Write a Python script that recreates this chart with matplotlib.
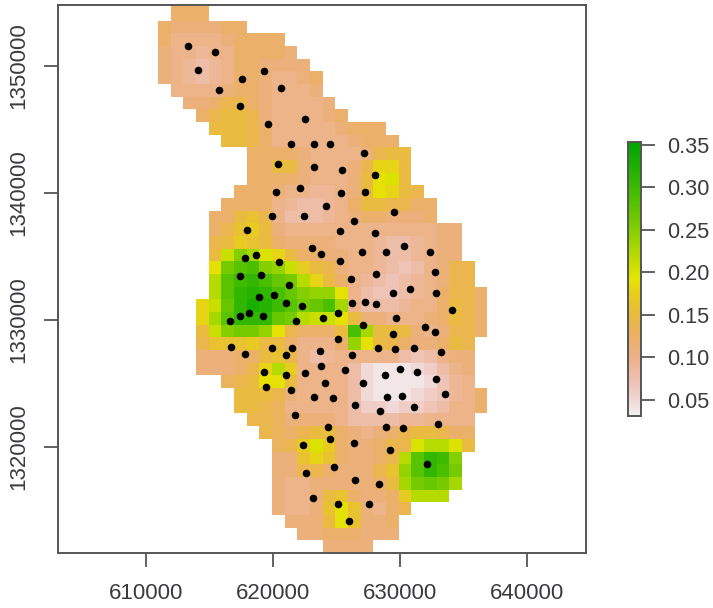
import colorsys
import numpy as np
import matplotlib
matplotlib.use("Agg")
import matplotlib.pyplot as plt
from matplotlib.colors import LinearSegmentedColormap

plt.rcParams['font.family'] = ['Liberation Sans', 'DejaVu Sans']

# raster cell values in hundredths: (first column, values of the row), from top to bottom
cell_rows = [
 (1, [12,12,12]),
 (1, [12,12,12]),
 (0, [12,11,11,11,11,12,12]),
 (0, [12,10,10,10,10,11,12,12,12,12]),
 (0, [11,10,10,9,10,10,12,12,12,12,11]),
 (0, [11,10,9,8,9,10,12,12,11,11,11,11]),
 (0, [11,10,9,8,9,10,12,12,11,10,10,11,12]),
 (1, [10,10,10,10,11,12,12,11,10,10,10,11]),
 (2, [11,11,12,14,14,12,11,10,10,10,10,11]),
 (3, [12,14,15,15,14,11,10,10,10,10,11,12]),
 (4, [15,15,15,14,12,10,10,10,10,10,11,12,12,12]),
 (5, [15,15,14,12,10,10,10,10,10,10,11,12,12,12]),
 (7, [12,12,12,12,11,10,10,10,10,11,14,15,15]),
 (7, [12,12,15,15,11,10,10,10,11,14,18,18,15]),
 (7, [12,12,12,12,11,10,10,10,11,15,19,20,15]),
 (6, [12,12,12,11,10,10,9,9,10,11,15,19,18,15,14]),
 (5, [12,12,12,12,10,9,8,8,9,10,12,15,15,14,14,12,12]),
 (4, [12,12,15,16,14,10,8,8,8,9,10,11,12,12,11,11,11,12]),
 (4, [12,14,16,17,15,11,10,10,10,10,10,10,10,10,10,10,10,10,11,11]),
 (4, [14,15,17,16,15,12,11,11,11,11,10,10,10,9,8,8,9,10,11,11]),
 (4, [15,21,25,23,20,18,15,12,12,11,11,10,10,9,8,8,9,10,11,11]),
 (4, [19,26,28,29,25,24,21,17,15,14,11,10,10,9,8,7,8,10,11,14,14]),
 (4, [22,28,30,31,29,27,26,22,18,15,12,10,9,8,7,8,9,10,11,14,14]),
 (4, [22,28,31,32,31,29,27,25,24,24,19,10,8,7,7,8,9,10,12,14,14,12]),
 (3, [18,21,27,31,33,32,30,28,26,27,29,23,10,8,8,8,9,10,10,12,15,14,12]),
 (3, [18,23,28,31,31,31,27,26,22,21,21,19,15,11,11,10,10,10,11,12,15,14,12]),
 (3, [15,21,25,26,26,24,19,14,12,12,12,15,29,23,15,15,15,11,10,11,14,14,12]),
 (3, [14,16,16,16,17,15,15,12,10,10,10,12,24,19,15,14,12,11,11,12,15,14]),
 (3, [11,11,11,12,12,15,16,14,10,8,9,10,10,10,10,10,8,7,8,10,11,11]),
 (3, [11,11,11,12,14,18,22,17,10,10,10,10,8,5,4,4,4,5,6,8,10,11]),
 (5, [13,14,15,19,19,15,10,10,10,10,8,5,4,4,4,4,5,7,9,10]),
 (6, [15,15,15,14,11,10,10,10,10,8,5,4,4,4,5,6,7,9,10,12]),
 (6, [15,15,14,13,10,10,10,10,10,8,6,6,5,6,6,7,8,10,10,12]),
 (7, [14,14,13,11,11,11,11,10,8,8,8,8,9,9,10,10,10,10]),
 (8, [14,13,12,14,15,15,12,11,10,11,12,14,15,15,14,12,12]),
 (9, [13,14,17,20,17,12,11,11,12,14,14,20,22,22,20,15]),
 (9, [11,11,16,18,16,12,11,11,12,14,22,28,31,30,25]),
 (9, [11,11,14,14,12,11,11,11,14,16,24,28,31,29,26]),
 (9, [11,10,10,11,11,11,11,11,12,15,23,26,27,26,23]),
 (9, [11,10,10,11,15,16,12,11,11,12,17,22,22,22]),
 (9, [11,10,10,11,16,19,16,11,10,12,14]),
 (10, [11,11,11,15,19,16,11,11,12]),
 (11, [11,11,12,12,12,11,11,11]),
 (13, [11,11,11,11]),
]

# sample points, thousands of map units
point_x = [613.30,615.42,614.06,619.27,617.52,615.73,620.60,617.38,622.47,619.58,
 621.37,623.22,624.48,627.12,620.35,623.22,625.45,627.99,622.12,620.24,
 625.34,627.23,624.14,629.54,619.92,622.43,626.34,617.93,625.24,627.99,
 630.32,623.04,623.80,626.99,628.88,632.31,618.62,617.83,620.50,625.24,
 632.72,628.09,619.06,617.38,626.10,621.26,629.46,630.74,632.83,618.93,
 620.05,621.05,622.25,626.24,627.23,628.12,634.06,625.14,618.07,617.38,
 619.17,616.60,621.81,623.90,629.66,627.10,631.97,632.76,629.46,625.14,
 616.70,617.83,619.95,621.49,621.05,623.67,626.24,628.22,629.56,631.08,
 633.20,623.80,625.69,619.27,621.05,622.47,628.77,629.98,631.31,632.83,
 627.10,624.12,619.48,621.37,633.51,623.22,624.69,628.99,630.11,626.47,
 631.08,628.40,621.70,628.88,630.21,632.96,624.35,624.45,622.36,626.34,
 629.19,632.07,622.57,624.79,626.47,628.33,623.14,625.14,627.54,626.00]
point_y = [1351.57,1351.05,1349.69,1349.61,1348.92,1348.06,1348.27,1346.83,1345.83,1345.38,
 1343.83,1343.83,1343.83,1343.17,1342.31,1342.07,1341.83,1341.42,1340.42,1340.08,
 1339.98,1340.08,1338.98,1338.53,1338.19,1338.19,1337.77,1337.11,1336.98,1336.87,
 1335.85,1335.67,1335.20,1335.33,1335.33,1335.33,1335.09,1334.88,1334.54,1334.65,
 1333.76,1333.65,1333.54,1333.46,1333.20,1332.78,1332.10,1332.44,1332.10,1331.79,
 1331.99,1331.34,1331.13,1331.34,1331.44,1331.24,1330.79,1330.57,1330.57,1330.34,
 1330.34,1329.92,1329.92,1330.13,1330.13,1329.58,1329.47,1329.03,1328.92,1328.48,
 1327.90,1327.35,1327.80,1327.80,1327.24,1327.56,1327.24,1327.80,1327.69,1327.80,
 1327.46,1326.35,1326.04,1325.91,1325.69,1325.80,1325.69,1326.14,1325.91,1325.35,
 1325.04,1325.04,1324.70,1324.49,1324.15,1323.94,1323.84,1323.94,1324.04,1323.28,
 1323.15,1322.83,1322.50,1321.60,1321.50,1321.84,1321.60,1320.61,1320.16,1320.29,
 1319.74,1318.64,1317.95,1318.40,1317.40,1317.07,1315.96,1315.51,1315.51,1314.20]

x_ticks = [610000, 620000, 630000, 640000]
y_ticks = [1320000, 1330000, 1340000, 1350000]
bar_ticks = [0.05, 0.10, 0.15, 0.20, 0.25, 0.30, 0.35]
value_min, value_max = 0.0315, 0.353

W, H = 713, 608
GRAY = '#555555'
TEXT = '#3a3a40'


def terrain_stops(n=255):
    k = n // 2
    out = []
    for h, s, v in zip(np.linspace(4/12, 2/12, k), np.ones(k), np.linspace(.65, .9, k)):
        out.append(colorsys.hsv_to_rgb(h, s, v))
    m = n - k + 1
    for h, s, v in list(zip(np.linspace(2/12, 0, m), np.linspace(1, 0, m), np.linspace(.9, .95, m)))[1:]:
        out.append(colorsys.hsv_to_rgb(h, s, v))
    return out[::-1]


cmap = LinearSegmentedColormap.from_list('rev_terrain', terrain_stops(), N=255)

n_rows, n_cols = len(cell_rows), 26
grid = np.full((n_rows, n_cols), np.nan)
for r, (first, vals) in enumerate(cell_rows):
    grid[r, first:first + len(vals)] = np.array(vals) / 100

cell_w, cell_h = 996.0, 997.0
x_edges = 610943 + cell_w * np.arange(n_cols + 1)
y_edges = 1354550 + cell_h - cell_h * np.arange(n_rows + 1)

fig = plt.figure(figsize=(W / 100, H / 100), dpi=100)
ax = fig.add_axes([58 / W, 1 - 552.5 / H, (586 - 58) / W, (552.5 - 5) / H])
ax.pcolormesh(x_edges, y_edges, np.ma.masked_invalid(grid), cmap=cmap,
              vmin=value_min, vmax=value_max, linewidth=0, rasterized=True)
ax.scatter(np.array(point_x) * 1000, np.array(point_y) * 1000, s=30, c='black', linewidths=0, zorder=3)
ax.set_xlim(603090, 644600)
ax.set_ylim(1311710, 1354780)
ax.set_xticks(x_ticks)
ax.set_yticks(y_ticks)
ax.set_xticklabels([str(t) for t in x_ticks], color=TEXT, fontsize=16)
ax.set_yticklabels([str(t) for t in y_ticks], color=TEXT, fontsize=16, rotation=90, va='center')
ax.tick_params(axis='x', length=10, width=1.3, color=GRAY, pad=12)
ax.tick_params(axis='y', length=10, width=1.3, color=GRAY, pad=11)
for s in ax.spines.values():
    s.set_linewidth(1.4)
    s.set_color(GRAY)

cax = fig.add_axes([628 / W, 1 - 415.7 / H, 12.5 / W, (415.7 - 142.3) / H])
cax.imshow(np.linspace(value_max, value_min, 255)[:, None], cmap=cmap, aspect='auto',
           vmin=value_min, vmax=value_max, extent=[0, 1, value_min, value_max])
cax.set_xticks([])
cax.yaxis.tick_right()
cax.set_yticks(bar_ticks)
cax.set_yticklabels([f'{t:.2f}' for t in bar_ticks], color=TEXT, fontsize=15.6)
cax.tick_params(length=10, width=1.3, color=GRAY, pad=9)
for s in cax.spines.values():
    s.set_linewidth(1.4)
    s.set_color(GRAY)

fig.savefig('out.png', dpi=100)
